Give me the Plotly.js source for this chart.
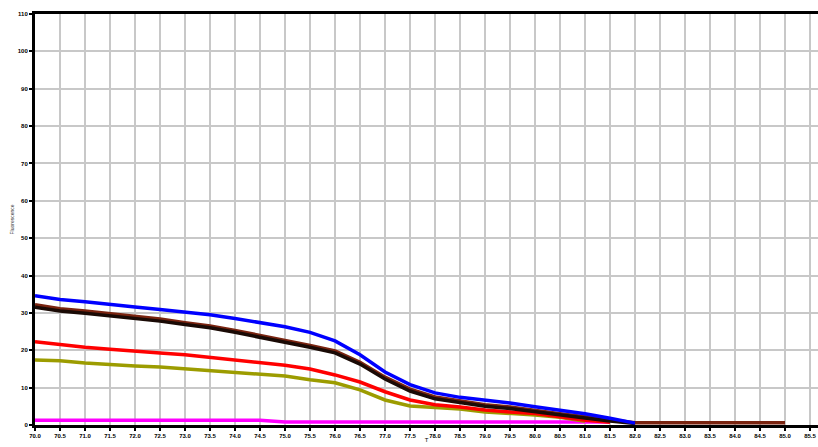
<!DOCTYPE html>
<html>
<head>
<meta charset="utf-8">
<script src="https://cdn.plot.ly/plotly-3.0.1.min.js"></script>
<style>html,body{margin:0;padding:0;background:#fff;}#chart{width:818px;height:447px;}</style>
</head>
<body>
<div id="chart"></div>
<script>
const temps = [70.0,70.5,71.0,71.5,72.0,72.5,73.0,73.5,74.0,74.5,75.0,75.5,76.0,76.5,77.0,77.5,78.0,78.5,79.0,79.5,80.0,80.5,81.0,81.5,82.0,82.5,83.0,83.5,84.0,84.5,85.0];
const blueVals = [34.6,33.6,33.0,32.4,31.6,30.9,30.2,29.5,28.5,27.4,26.3,24.8,22.5,18.8,14.2,10.8,8.6,7.4,6.7,5.9,4.9,4.0,3.0,1.8,0.5,null,null,null,null,null,null];
const brownVals = [32.2,31.1,30.5,29.8,29.2,28.4,27.4,26.5,25.3,24.0,22.8,21.3,19.8,16.8,12.8,9.6,7.5,6.4,5.4,4.8,3.8,3.0,2.2,1.3,0.6,0.6,0.6,0.6,0.6,0.6,0.6];
const blackVals = [31.5,30.5,29.9,29.2,28.6,27.8,26.9,26.0,24.8,23.5,22.3,20.8,19.3,16.3,12.3,9.1,7.0,6.0,5.0,4.4,3.5,2.7,1.9,1.1,0.4,null,null,null,null,null,null];
const redVals = [22.3,21.5,20.8,20.3,19.9,19.3,18.8,18.1,17.4,16.8,16.0,15.0,13.4,11.5,8.9,6.7,5.4,4.8,4.0,3.5,3.1,2.2,1.3,0.7,null,null,null,null,null,null,null];
const oliveVals = [17.4,17.2,16.6,16.1,15.8,15.5,15.0,14.7,14.2,13.7,13.1,12.1,11.3,9.4,6.7,5.1,4.6,4.3,3.5,3.2,2.7,2.1,1.0,null,null,null,null,null,null,null,null];
const magentaVals = [1.3,1.3,1.3,1.3,1.3,1.3,1.3,1.3,1.3,1.3,0.8,0.8,0.8,0.8,0.8,0.8,0.8,0.8,0.8,0.8,0.8,0.8,0.8,0.8,null,null,null,null,null,null,null];
const xTickVals = [70.0,70.5,71.0,71.5,72.0,72.5,73.0,73.5,74.0,74.5,75.0,75.5,76.0,76.5,77.0,77.5,78.0,78.5,79.0,79.5,80.0,80.5,81.0,81.5,82.0,82.5,83.0,83.5,84.0,84.5,85.0,85.5];
const yTickVals = [0,10,20,30,40,50,60,70,80,90,100,110];

function tr(y, color){
  return {x: temps, y: y, type:'scatter', mode:'lines', line:{color:color, width:3.5}, hoverinfo:'skip', connectgaps:false};
}
const data = [
  tr(magentaVals,'#ff00ff'),
  tr(oliveVals,'#9c9c00'),
  tr(redVals,'#ff0000'),
  tr(brownVals,'#7a2410'),
  tr(blackVals,'#1a0a05'),
  tr(blueVals,'#0000ff')
];
const tickFont = {family:'Liberation Sans, Arial', size:6, color:'#000', weight:'bold'};
const layout = {
  width:818, height:447,
  margin:{l:35, r:0, t:14, b:22},
  paper_bgcolor:'#fff', plot_bgcolor:'#fff',
  showlegend:false,
  xaxis:{
    range:[70, 85.66], tickvals:xTickVals, ticktext:xTickVals.map(v=>v.toFixed(1)),
    showgrid:true, gridcolor:'#c8c8c8', gridwidth:2,
    showline:true, linecolor:'#000', linewidth:3, mirror:true,
    ticks:'outside', ticklen:3, tickwidth:2, tickcolor:'#000',
    tickfont:tickFont, zeroline:false,
    title:{text:'T', font:{family:'Liberation Sans, Arial', size:6, color:'#000'}, standoff:0}
  },
  yaxis:{
    range:[0,110], tickvals:yTickVals,
    showgrid:true, gridcolor:'#c8c8c8', gridwidth:2,
    showline:true, linecolor:'#000', linewidth:3,
    ticks:'outside', ticklen:3, tickwidth:2, tickcolor:'#000',
    tickfont:tickFont, zeroline:false,
    title:{text:'Fluorescence', font:{family:'Liberation Sans, Arial', size:5, color:'#333'}, standoff:4}
  }
};
Plotly.newPlot('chart', data, layout, {staticPlot:true, displayModeBar:false});
</script>
</body>
</html>
